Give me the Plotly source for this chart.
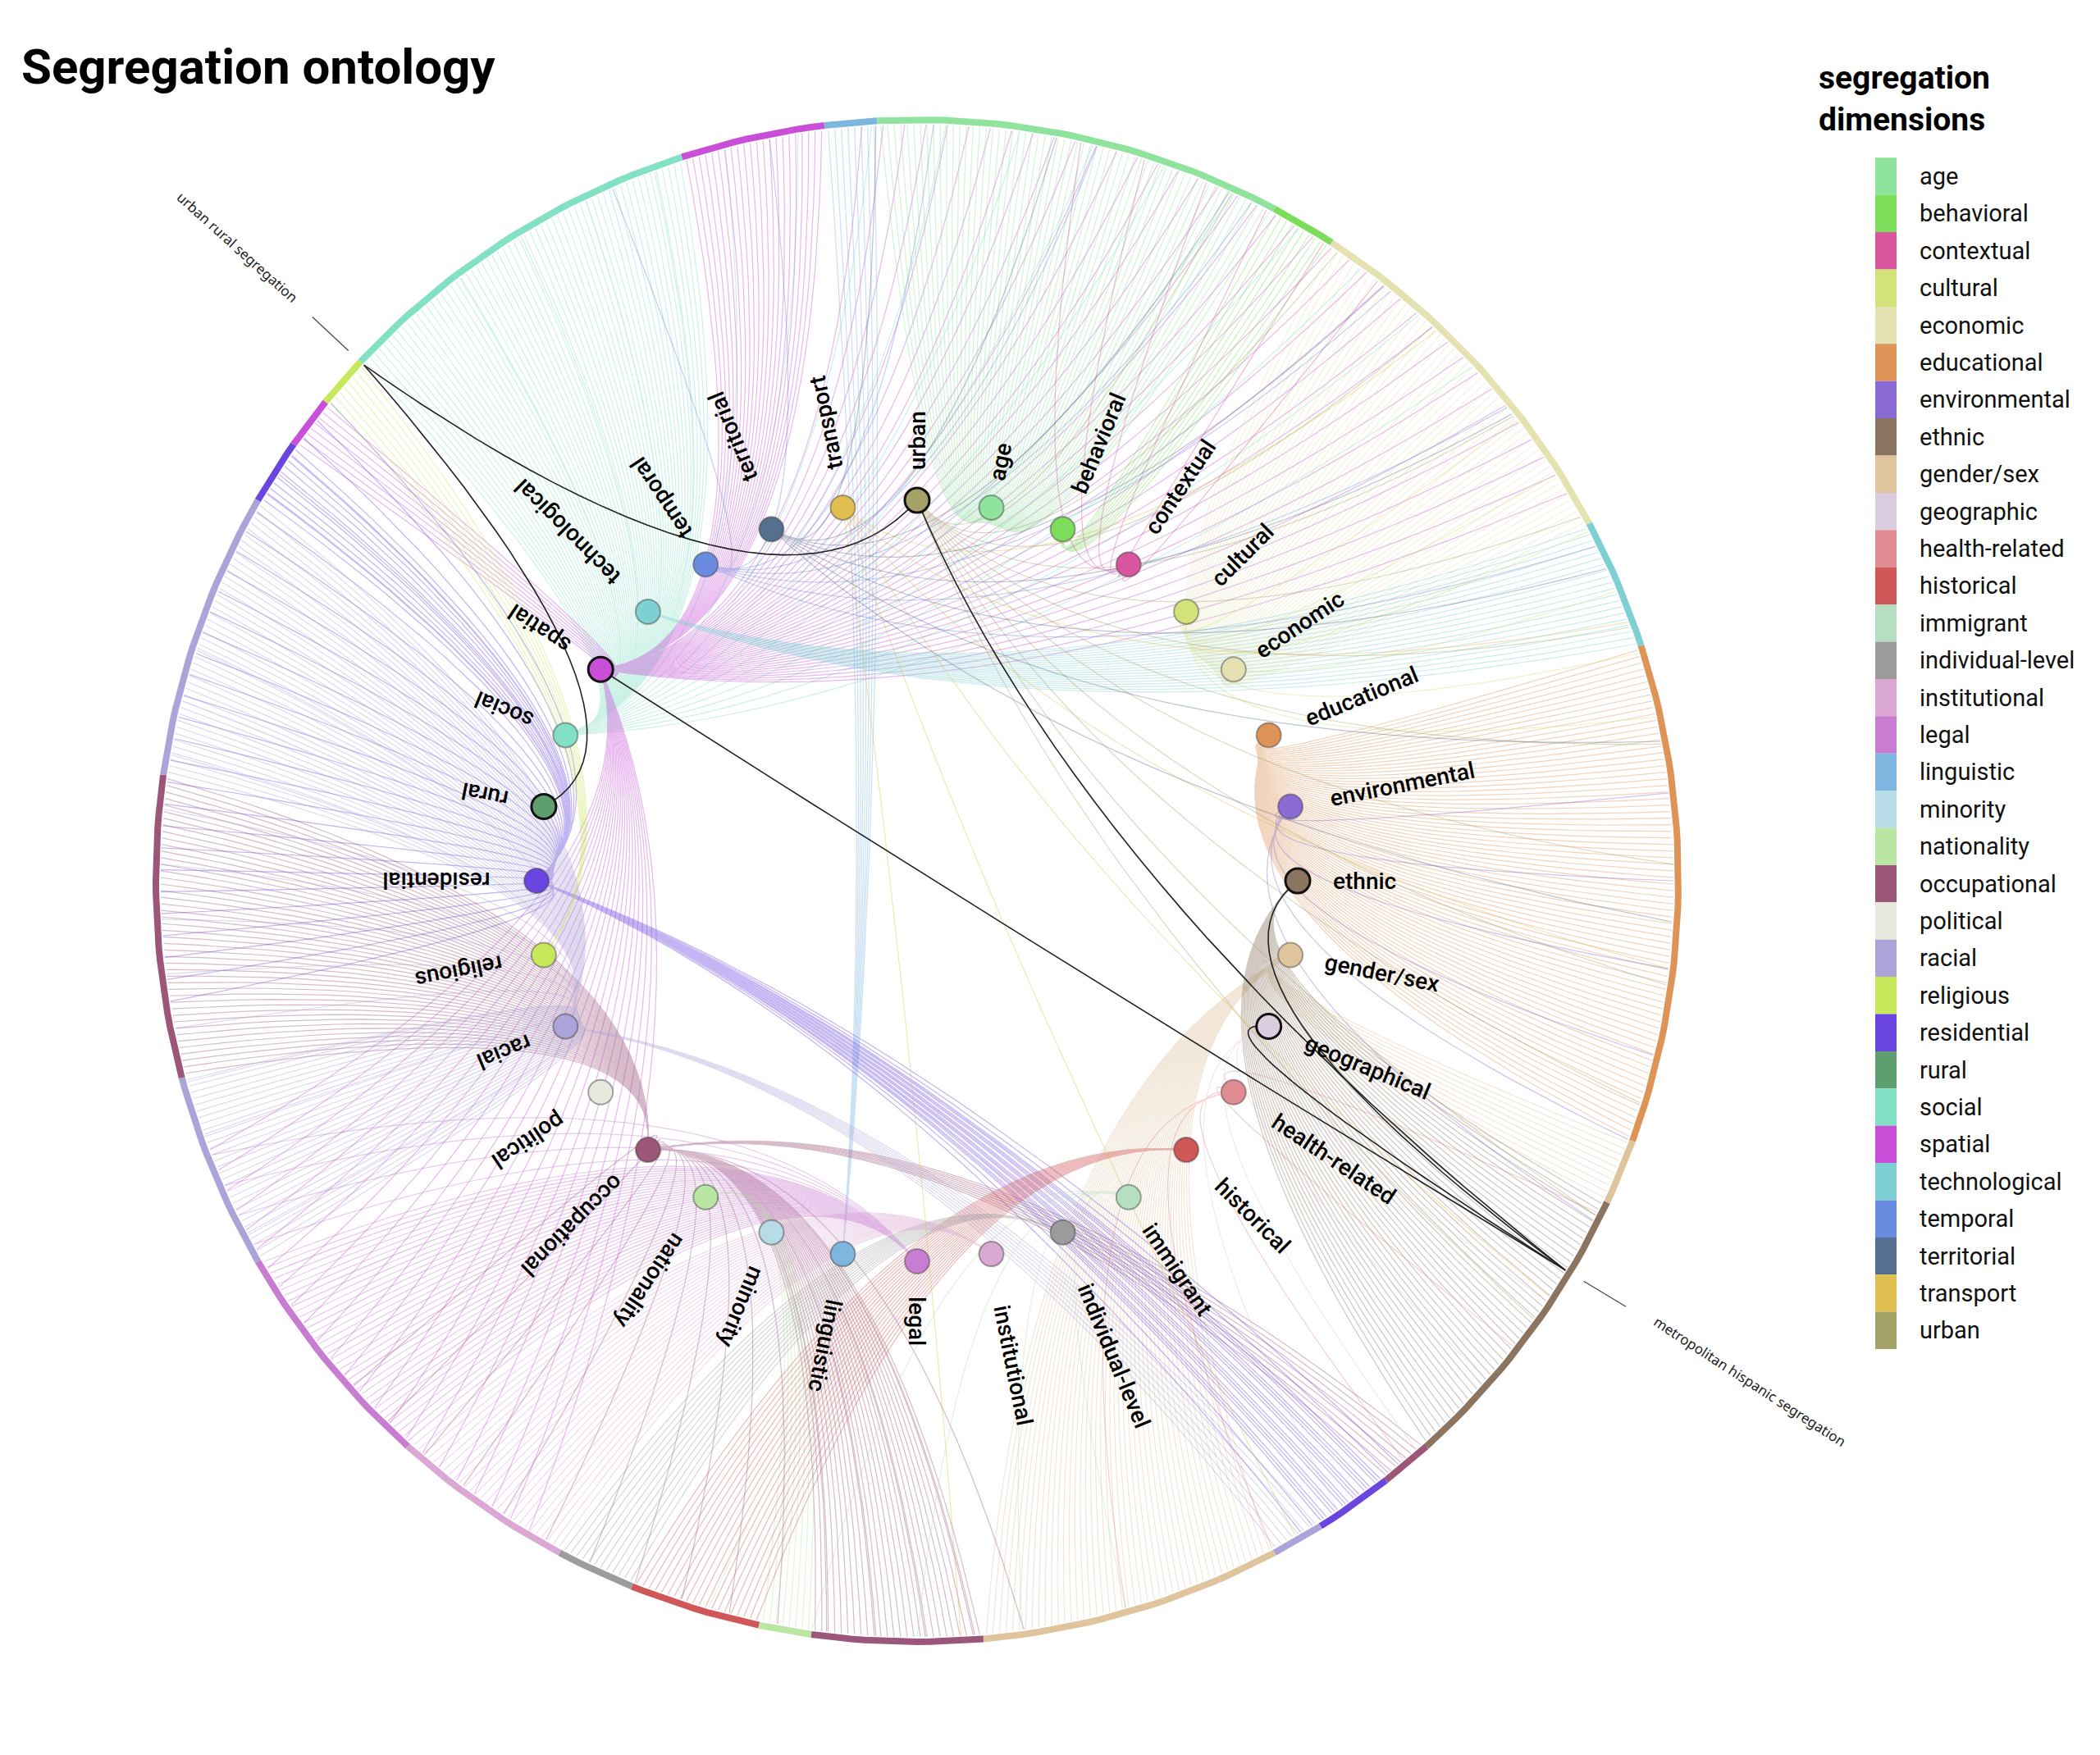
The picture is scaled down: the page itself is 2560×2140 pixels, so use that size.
import math
import plotly.graph_objects as go

dims = ["age","behavioral","contextual","cultural","economic","educational","environmental","ethnic",
        "gender/sex","geographic","health-related","historical","immigrant","individual-level","institutional",
        "legal","linguistic","minority","nationality","occupational","political","racial","religious",
        "residential","rural","social","spatial","technological","temporal","territorial","transport","urban"]
colors = ["#90e39c","#7ddc5a","#d9559e","#d4e27a","#e3e2b0","#df9457","#8a6bd6","#8b7560",
          "#dfc49e","#dcccdf","#e08c92","#d05757","#b5dfc0","#9c9c9c","#dba8d4",
          "#c87dd2","#7fb6e0","#b7dce8","#b9e6a3","#9b5678","#e8e8de","#aba4d9","#c8e85c",
          "#6a45e0","#5f9e6e","#82e0c5","#c94fd9","#7fd0d3","#6b8be0","#55708f","#e0be50","#a5a268"]
cmap = dict(zip(dims, colors))

# inner nodes, clockwise from top
node_labels = ["urban","age","behavioral","contextual","cultural","economic","educational","environmental",
               "ethnic","gender/sex","geographical","health-related","historical","immigrant","individual-level",
               "institutional","legal","linguistic","minority","nationality","occupational","political","racial",
               "religious","residential","rural","social","spatial","technological","temporal","territorial","transport"]
node_dim = {l: ("geographic" if l == "geographical" else l) for l in node_labels}
dark_nodes = ["urban","spatial","ethnic","geographical","rural"]

# outer ring segments: (start angle, end angle, dimension, number of leaves)
seg_start = [137,108,97,93,62,57,28,18,-20,-25,-48,-52,-58,-62,-85,-98,-102,-112,-118,-132,-150,-165,-188,-210,-215,-219]
seg_end   = [108,97,93,62,57,28,18,-20,-25,-48,-52,-58,-62,-85,-98,-102,-112,-118,-132,-150,-165,-188,-210,-215,-219,-223]
seg_dim   = ["social","spatial","linguistic","age","behavioral","economic","technological","educational","gender/sex",
             "ethnic","occupational","residential","racial","gender/sex","occupational","nationality","historical",
             "individual-level","institutional","legal","racial","occupational","racial","residential","spatial","religious"]
seg_count = [60,22,8,62,10,58,20,76,10,46,8,12,8,46,26,8,20,12,28,36,30,46,44,10,8,8]

# extra cross links: (node, start angle, end angle, count)
x_node  = ["spatial","spatial","residential","residential","urban","occupational","contextual","cultural","transport","temporal","territorial","immigrant","health-related","legal","racial","social","environmental","geographical"]
x_start = [95,-120,-170,-50,70,-80,80,40,60,120,100,-70,-20,-135,-150,130,10,-30]
x_end   = [30,-160,-220,-60,-40,-140,50,10,-100,20,-10,-110,-80,-160,-200,40,-30,-60]
x_count = [40,24,30,10,12,16,6,6,6,8,8,5,5,10,12,16,6,4]

CX, CY, R, RN = 1110, 1066, 928, 464

def pt(a, r):
    return CX + r*math.cos(math.radians(a)), CY - r*math.sin(math.radians(a))

node_pos = {}
for i, l in enumerate(node_labels):
    node_pos[l] = 90 - i*11.25

def bez(p0, p2, k=0.5, n=28):
    mx, my = (p0[0]+p2[0])/2, (p0[1]+p2[1])/2
    c = (CX + (mx-CX)*k, CY + (my-CY)*k)
    xs, ys = [], []
    for j in range(n+1):
        t = j/n
        xs.append((1-t)**2*p0[0] + 2*(1-t)*t*c[0] + t*t*p2[0])
        ys.append((1-t)**2*p0[1] + 2*(1-t)*t*c[1] + t*t*p2[1])
    return xs, ys

fig = go.Figure()
edges = {}
def add_edge(node, ang):
    p0 = pt(node_pos[node], RN); p2 = pt(ang, R-6)
    xs, ys = bez(p0, p2)
    e = edges.setdefault(node_dim[node], ([], []))
    e[0].extend(xs + [None]); e[1].extend(ys + [None])

dim_node = {v: k for k, v in node_dim.items()}
for s, e, d, c in zip(seg_start, seg_end, seg_dim, seg_count):
    for j in range(c):
        add_edge(dim_node[d], s + (e-s)*(j+0.5)/c)
for nd, s, e, c in zip(x_node, x_start, x_end, x_count):
    for j in range(c):
        add_edge(nd, s + (e-s)*(j+0.5)/c)

for d, (xs, ys) in edges.items():
    fig.add_trace(go.Scatter(x=xs, y=ys, mode="lines", line=dict(color=cmap[d], width=1.2),
                             opacity=0.4, hoverinfo="skip", showlegend=False))

# black highlighted paths
blk = [(137,"urban"),(137,"rural"),(-31,"ethnic"),(-31,"geographical"),(-31,"urban"),(-31,"spatial")]
for a, nd in blk:
    xs, ys = bez(pt(node_pos[nd], RN), pt(a, R-6))
    fig.add_trace(go.Scatter(x=xs, y=ys, mode="lines", line=dict(color="#222", width=1.6),
                             hoverinfo="skip", showlegend=False))

# outer ring
for s, e, d in zip(seg_start, seg_end, seg_dim):
    n = max(4, int(abs(e-s)))
    xs, ys = zip(*[pt(s + (e-s)*j/n, R) for j in range(n+1)])
    fig.add_trace(go.Scatter(x=xs, y=ys, mode="lines", line=dict(color=cmap[d], width=8),
                             hoverinfo="skip", showlegend=False))

# nodes
for l in node_labels:
    x, y = pt(node_pos[l], RN)
    dk = l in dark_nodes
    fig.add_trace(go.Scatter(x=[x], y=[y], mode="markers",
        marker=dict(size=30, color=cmap[node_dim[l]], line=dict(color="#111" if dk else "rgba(60,60,60,0.45)", width=3 if dk else 2)),
        hoverinfo="skip", showlegend=False))

ann = []
for l in node_labels:
    a = node_pos[l]
    r = RN + 32 + len(l)*8.2
    x, y = pt(a, r)
    ann.append(dict(x=x, y=y, text=l, showarrow=False, textangle=-a,
                    font=dict(family="Roboto", size=28, color="#000", weight=500), xref="x", yref="y"))

# leader labels
for a, txt, ta in [(137, "urban rural segregation", 42), (-31, "metropolitan hispanic segregation", 33)]:
    x0, y0 = pt(a, R+20); x1, y1 = pt(a, R+80)
    fig.add_trace(go.Scatter(x=[x0, x1], y=[y0, y1], mode="lines", line=dict(color="#444", width=1.2),
                             hoverinfo="skip", showlegend=False))
    L = len(txt)*5.2
    ux, uy = (x1-x0), (y1-y0); nrm = math.hypot(ux, uy); ux, uy = ux/nrm, uy/nrm
    ann.append(dict(x=x1+ux*(L+5), y=y1+uy*(L+5), text=txt, showarrow=False, textangle=ta,
                    font=dict(family="Noto Sans", size=17, color="#222")))

# title
ann.append(dict(x=16, y=73, text="<b>Segregation ontology</b>", showarrow=False, xanchor="left",
                font=dict(family="Roboto", size=60, color="#000")))
# legend
ann.append(dict(x=2207, y=112, text="<b>segregation<br>dimensions</b>", showarrow=False, xanchor="left",
                align="left", font=dict(family="Roboto", size=39, color="#000")))
shapes = []
for i, d in enumerate(dims):
    yc = 207 + i*45.4
    shapes.append(dict(type="rect", x0=2278, x1=2304, y0=yc-22.7, y1=yc+22.7, fillcolor=cmap[d],
                       line=dict(width=0), xref="x", yref="y"))
    ann.append(dict(x=2330, y=yc, text=d, showarrow=False, xanchor="left",
                    font=dict(family="Roboto", size=29, color="#111")))

fig.update_layout(width=2560, height=2140, margin=dict(l=0, r=0, t=0, b=0),
                  plot_bgcolor="white", paper_bgcolor="white", annotations=ann, shapes=shapes,
                  xaxis=dict(range=[0, 2560], visible=False, fixedrange=True),
                  yaxis=dict(range=[2140, 0], visible=False, fixedrange=True))
fig.write_html("out.html")
